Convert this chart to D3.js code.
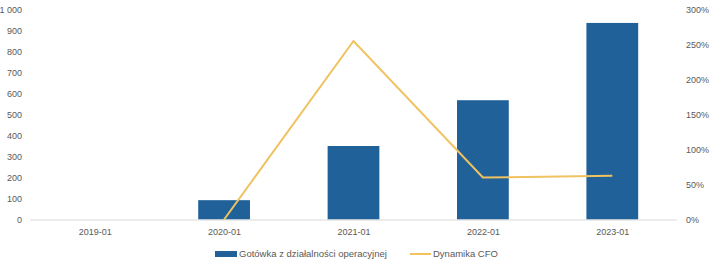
<!DOCTYPE html>
<html><head><meta charset="utf-8">
<script src="https://cdn.jsdelivr.net/npm/d3@7"></script>
<style>
body{margin:0;background:#fff;}
text{font-family:"Liberation Sans",Arial,sans-serif;}
</style></head><body>
<svg id="c" width="711" height="259"></svg>
<script>
const categories = ["2019-01","2020-01","2021-01","2022-01","2023-01"];
const cfoValues = [0, 92, 350, 568, 936];
const cfoGrowth = [null, 0, 2.55, 0.60, 0.625];
const leftTicks = [0,100,200,300,400,500,600,700,800,900,1000];
const rightTicks = [0,0.5,1,1.5,2,2.5,3];
const seriesNames = ["Gotówka z działalności operacyjnej","Dynamika CFO"];

const svg = d3.select("#c");
const x0 = 30, x1 = 677, yTop = 9.5, yBot = 219.5;
const x = d3.scaleBand().domain(categories).range([x0,x1]).paddingInner(0.6).paddingOuter(0.3);
const xc = d3.scalePoint().domain(categories).range([x0,x1]).padding(0.5);
const yL = d3.scaleLinear().domain([0,1000]).range([yBot,yTop]);
const yR = d3.scaleLinear().domain([0,3]).range([yBot,yTop]);
const fmtL = d => d3.format(",")(d).replace(",", " ");
const txtCol = "#595959";

// left axis
const gL = svg.append("g").attr("transform",`translate(${22},0)`)
  .call(d3.axisLeft(yL).tickValues(leftTicks).tickFormat(fmtL).tickSize(0).tickPadding(0));
gL.select(".domain").remove();
gL.selectAll("text").attr("fill",txtCol).style("font-size","9px").attr("text-anchor","end");

// right axis
const gR = svg.append("g").attr("transform",`translate(${686},0)`)
  .call(d3.axisRight(yR).tickValues(rightTicks).tickFormat(d3.format(".0%")).tickSize(0).tickPadding(0));
gR.select(".domain").remove();
gR.selectAll("text").attr("fill",txtCol).style("font-size","9px").attr("text-anchor","start");

// bars
svg.append("g").selectAll("rect").data(categories).join("rect")
  .attr("x", d => x(d)).attr("width", x.bandwidth())
  .attr("y", (d,i) => yL(cfoValues[i])).attr("height", (d,i) => yBot - yL(cfoValues[i]))
  .attr("fill","#1F6198");

// baseline
svg.append("line").attr("x1",x0).attr("x2",x1).attr("y1",yBot+0.5).attr("y2",yBot+0.5)
  .attr("stroke","#D9D9D9").attr("stroke-width",1);

// x labels
const gX = svg.append("g").attr("transform",`translate(0,${yBot})`)
  .call(d3.axisBottom(xc).tickSize(0).tickPadding(9));
gX.select(".domain").remove();
gX.selectAll("text").attr("fill",txtCol).style("font-size","9px");

// line
const line = d3.line().defined(d => d.v !== null).x(d => xc(d.c)).y(d => yR(d.v));
svg.append("path").datum(categories.map((c,i)=>({c, v: cfoGrowth[i]})))
  .attr("d", line).attr("fill","none").attr("stroke","#F0C260").attr("stroke-width",2)
  .attr("stroke-linejoin","miter");

// legend
const lg = svg.append("g");
lg.append("rect").attr("x",215).attr("y",251).attr("width",22).attr("height",6).attr("fill","#1F6198");
lg.append("text").attr("x",239).attr("y",257).text(seriesNames[0]).attr("fill",txtCol).style("font-size","9.5px");
lg.append("line").attr("x1",410).attr("x2",431).attr("y1",254).attr("y2",254).attr("stroke","#F0C260").attr("stroke-width",2);
lg.append("text").attr("x",433).attr("y",257).text(seriesNames[1]).attr("fill",txtCol).style("font-size","9.5px");
</script>
</body></html>
